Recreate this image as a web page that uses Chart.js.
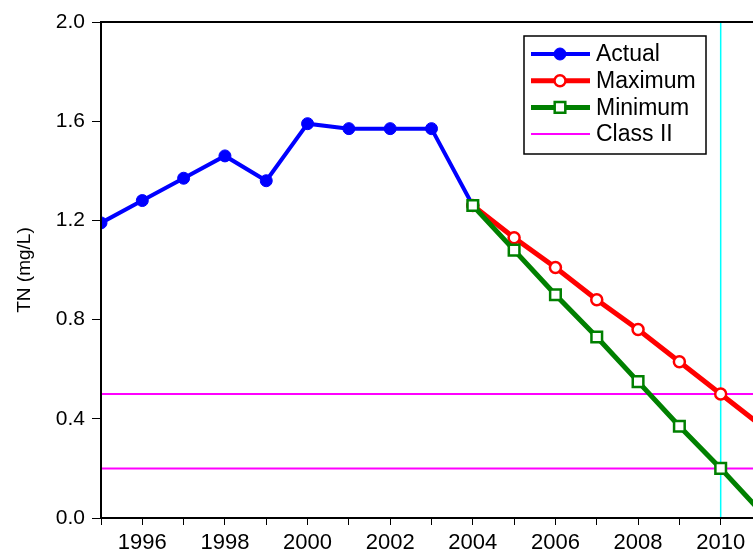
<!DOCTYPE html>
<html>
<head>
<meta charset="utf-8">
<script src="https://cdn.jsdelivr.net/npm/chart.js@4/dist/chart.umd.min.js"></script>
<style>
  html, body { margin: 0; padding: 0; background: #fff; overflow: hidden; }
  #wrap { width: 762px; height: 556px; }
</style>
</head>
<body>
<div id="wrap"><canvas id="tnChart" width="762" height="556"></canvas></div>
<script>
// measured TN, 1995-2004
const actualYears = [1995, 1996, 1997, 1998, 1999, 2000, 2001, 2002, 2003, 2004];
const actualTN = [1.19, 1.28, 1.37, 1.46, 1.36, 1.59, 1.57, 1.57, 1.57, 1.26];

// projected range, 2004-2011
const forecastYears = [2004, 2005, 2006, 2007, 2008, 2009, 2010, 2011];
const maximumTN = [1.26, 1.13, 1.01, 0.88, 0.76, 0.63, 0.50, 0.37];
const minimumTN = [1.26, 1.08, 0.90, 0.73, 0.55, 0.37, 0.20, 0.02];

const classIILevels = [0.5, 0.2];
const targetYear = 2010;

const xTickYears = [1995, 1996, 1997, 1998, 1999, 2000, 2001, 2002, 2003,
                    2004, 2005, 2006, 2007, 2008, 2009, 2010, 2011];
const yTickValues = [0.0, 0.4, 0.8, 1.2, 1.6, 2.0];

const FONT = "'Liberation Sans', Arial, sans-serif";
const xMin = xTickYears[0];
const xMax = xTickYears[xTickYears.length - 1];

const toPoints = (xs, ys) => xs.map((x, i) => ({ x: x, y: ys[i] }));

const datasets = [
  {
    label: 'Actual',
    data: toPoints(actualYears, actualTN),
    borderColor: '#0000FF',
    borderWidth: 4,
    pointStyle: 'circle',
    pointRadius: 6,
    pointBackgroundColor: '#0000FF',
    pointBorderColor: '#0000FF',
    pointBorderWidth: 1,
    order: 2,
    legend: true,
  },
  {
    label: 'Maximum',
    data: toPoints(forecastYears, maximumTN),
    borderColor: '#FF0000',
    borderWidth: 5,
    pointStyle: 'circle',
    pointRadius: 5.5,
    pointBackgroundColor: '#FFFFFF',
    pointBorderColor: '#FF0000',
    pointBorderWidth: 2.5,
    order: 1,
    legend: true,
  },
  {
    label: 'Minimum',
    data: toPoints(forecastYears, minimumTN),
    borderColor: '#008000',
    borderWidth: 5,
    pointStyle: 'rect',
    pointRadius: 7.5,
    pointBackgroundColor: '#FFFFFF',
    pointBorderColor: '#008000',
    pointBorderWidth: 2.5,
    order: 0,
    legend: true,
  },
];

classIILevels.forEach((lvl, i) => {
  datasets.push({
    label: 'Class II',
    data: [{ x: xMin, y: lvl }, { x: xMax, y: lvl }],
    borderColor: '#FF00FF',
    borderWidth: 2,
    pointRadius: 0,
    order: 3,
    legend: i === 0,
  });
});

datasets.push({
  label: String(targetYear),
  data: [{ x: targetYear, y: yTickValues[0] }, { x: targetYear, y: yTickValues[yTickValues.length - 1] }],
  borderColor: '#00FFFF',
  borderWidth: 1.5,
  pointRadius: 0,
  order: 3,
  legend: false,
});

datasets.forEach(d => { d.clip = 0; d.tension = 0; d.fill = false; });

// box around the plot area
const frame = {
  id: 'frame',
  afterDatasetsDraw(chart) {
    const a = chart.chartArea, ctx = chart.ctx;
    ctx.save();
    ctx.strokeStyle = '#000';
    ctx.lineWidth = 2;
    ctx.strokeRect(a.left, a.top, a.right - a.left, a.bottom - a.top);
    ctx.restore();
  }
};

const drawMarker = (ctx, d, x, y) => {
  ctx.fillStyle = d.pointBackgroundColor;
  ctx.strokeStyle = d.pointBorderColor;
  ctx.lineWidth = d.pointBorderWidth;
  ctx.beginPath();
  if (d.pointStyle === 'rect') {
    const s = d.pointRadius * Math.SQRT1_2;
    ctx.rect(x - s, y - s, 2 * s, 2 * s);
  } else {
    ctx.arc(x, y, d.pointRadius, 0, Math.PI * 2);
  }
  ctx.fill();
  ctx.stroke();
};

// legend with line + marker samples
const legendBox = {
  id: 'legendBox',
  afterDraw(chart) {
    const ctx = chart.ctx, a = chart.chartArea;
    const x0 = a.left + 423, y0 = a.top + 14, w = 182, h = 118;
    ctx.save();
    ctx.fillStyle = '#fff';
    ctx.fillRect(x0, y0, w, h);
    ctx.strokeStyle = '#000';
    ctx.lineWidth = 1.5;
    ctx.strokeRect(x0, y0, w, h);
    const items = chart.data.datasets.filter(d => d.legend);
    items.forEach((d, i) => {
      const cy = y0 + 18 + i * 26.7;
      ctx.strokeStyle = d.borderColor;
      ctx.lineWidth = d.borderWidth;
      ctx.beginPath();
      ctx.moveTo(x0 + 7, cy);
      ctx.lineTo(x0 + 66, cy);
      ctx.stroke();
      if (d.pointRadius) drawMarker(ctx, d, x0 + 36, cy);
      ctx.fillStyle = '#000';
      ctx.font = '23px ' + FONT;
      ctx.textBaseline = 'middle';
      ctx.textAlign = 'left';
      ctx.fillText(d.label, x0 + 72, cy + 1);
    });
    ctx.restore();
  }
};

const ctx = document.getElementById('tnChart').getContext('2d');
const tnChart = new Chart(ctx, {
  type: 'line',
  data: { datasets: datasets },
  options: {
    responsive: false,
    animation: false,
    devicePixelRatio: 1,
    layout: { autoPadding: false, padding: { top: 22, left: 0, right: 0, bottom: 0 } },
    plugins: {
      legend: { display: false },
      tooltip: { enabled: false },
    },
    scales: {
      x: {
        type: 'linear',
        min: xMin,
        max: xMax,
        afterBuildTicks: s => { s.ticks = xTickYears.map(v => ({ value: v })); },
        afterFit: s => { s.height = 38; s.paddingLeft = 0; s.paddingRight = 0; },
        ticks: {
          autoSkip: false,
          maxRotation: 0,
          padding: 5,
          color: '#000',
          font: { family: FONT, size: 22 },
          callback: v => (v % 2 === 0 ? String(v) : ''),
        },
        grid: { drawOnChartArea: false, tickLength: 7, color: '#000', lineWidth: 1 },
        border: { display: true, color: '#000', width: 2 },
      },
      y: {
        min: yTickValues[0],
        max: yTickValues[yTickValues.length - 1],
        afterBuildTicks: s => { s.ticks = yTickValues.map(v => ({ value: v })); },
        afterFit: s => { s.width = 101; s.paddingTop = 0; s.paddingBottom = 0; },
        ticks: {
          padding: 7,
          color: '#000',
          font: { family: FONT, size: 21 },
          callback: v => Number(v).toFixed(1),
        },
        grid: { drawOnChartArea: false, tickLength: 9, color: '#000', lineWidth: 1 },
        border: { display: true, color: '#000', width: 2 },
        title: {
          display: true,
          text: 'TN (mg/L)',
          color: '#000',
          font: { family: FONT, size: 19 },
          padding: { top: 13, bottom: 0 },
        },
      },
    },
  },
  plugins: [frame, legendBox],
});
</script>
</body>
</html>
